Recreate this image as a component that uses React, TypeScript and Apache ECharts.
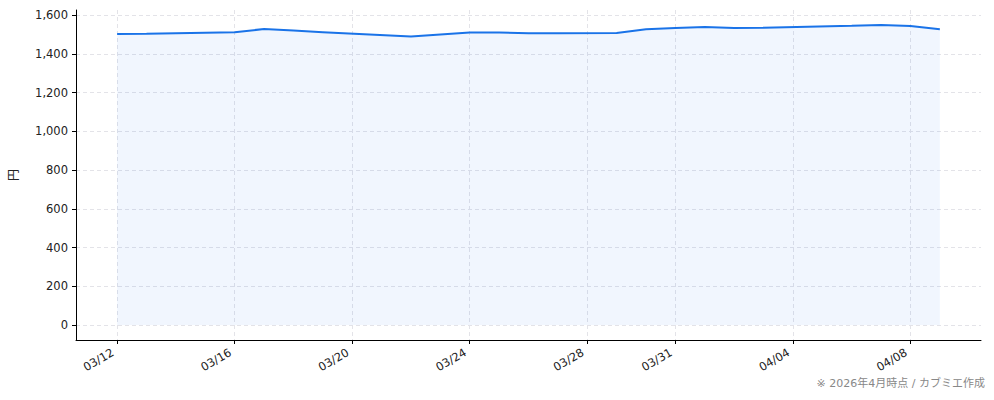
import { useEffect, useRef } from "react";
import * as echarts from "echarts";

// daily close (円)
const dates = [
  "2026-03-12", "2026-03-13", "2026-03-16", "2026-03-17", "2026-03-18",
  "2026-03-19", "2026-03-22", "2026-03-23", "2026-03-24", "2026-03-25",
  "2026-03-26", "2026-03-27", "2026-03-29", "2026-03-30", "2026-03-31",
  "2026-04-01", "2026-04-02", "2026-04-03", "2026-04-06", "2026-04-07",
  "2026-04-08", "2026-04-09",
];
const prices = [
  1503, 1505, 1513, 1529, 1521,
  1513, 1490, 1501, 1511, 1511,
  1508, 1508, 1509, 1528, 1535,
  1540, 1534, 1536, 1546, 1550,
  1545, 1528,
];
const xTicks = [
  "2026-03-12", "2026-03-16", "2026-03-20", "2026-03-24",
  "2026-03-28", "2026-03-31", "2026-04-04", "2026-04-08",
];
const yTicks = [0, 200, 400, 600, 800, 1000, 1200, 1400, 1600];

const FONT = "'DejaVu Sans', 'Noto Sans CJK JP', sans-serif";
const LINE = "#1a73e8";

const toTime = (s: string) => {
  const [y, m, d] = s.split("-").map(Number);
  return new Date(y, m - 1, d).getTime();
};

export default function App() {
  const ref = useRef<HTMLDivElement>(null);

  useEffect(() => {
    if (!ref.current) return;
    const chart = echarts.init(ref.current, undefined, { renderer: "svg" });

    const times = dates.map(toTime);
    const span = times[times.length - 1] - times[0];
    const xMin = times[0] - span * 0.05;
    const xMax = times[times.length - 1] + span * 0.05;
    const yMax = Math.max(...prices);
    const yPad = yMax * 0.05;
    const grid = { color: "#e3e3e8", type: [4, 3], width: 1 };

    chart.setOption({
      animation: false,
      textStyle: { fontFamily: FONT },
      grid: { left: 75, right: 13, top: 10, bottom: 60 },
      xAxis: {
        type: "value",
        min: xMin,
        max: xMax,
        axisLine: { onZero: false, lineStyle: { color: "#000", width: 1 } },
        axisTick: {
          show: true,
          length: 4,
          lineStyle: { color: "#000" },
          customValues: xTicks.map(toTime),
        },
        axisLabel: {
          customValues: xTicks.map(toTime),
          rotate: 30,
          margin: 9,
          padding: [0, 5, 0, 0],
          color: "#222",
          fontSize: 11.5,
          fontFamily: FONT,
          formatter: (v: number) => {
            const d = new Date(v);
            const mm = String(d.getMonth() + 1).padStart(2, "0");
            const dd = String(d.getDate()).padStart(2, "0");
            return `${mm}/${dd}`;
          },
        },
        splitLine: { show: true, lineStyle: grid },
      },
      yAxis: {
        type: "value",
        min: -yPad,
        max: yMax + yPad,
        name: "円",
        nameLocation: "middle",
        nameGap: 56,
        nameRotate: 90,
        nameTextStyle: { color: "#222", fontSize: 12, fontFamily: FONT },
        axisLine: { show: true, onZero: false, lineStyle: { color: "#000", width: 1 } },
        axisTick: {
          show: true,
          length: 4,
          lineStyle: { color: "#000" },
          customValues: yTicks,
        },
        axisLabel: {
          customValues: yTicks,
          color: "#222",
          fontSize: 11.5,
          fontFamily: FONT,
          margin: 8,
          formatter: (v: number) => v.toLocaleString("en-US"),
        },
        splitLine: { show: true, lineStyle: grid },
      },
      series: [
        {
          type: "line",
          showSymbol: false,
          data: times.map((t, i) => [t, prices[i]]),
          lineStyle: { color: LINE, width: 2 },
          itemStyle: { color: LINE },
          areaStyle: { color: "rgba(26,115,232,0.09)", origin: 0 },
        },
      ],
      graphic: [
        {
          type: "text",
          right: 9,
          bottom: 11,
          style: {
            text: "※ 2026年4月時点 / カブミエ作成",
            fill: "#888",
            fontSize: 11,
            fontFamily: FONT,
          },
        },
      ],
    });

    return () => chart.dispose();
  }, []);

  return (
    <div
      ref={ref}
      style={{ position: "fixed", left: 0, top: 0, width: 994, height: 400, background: "#fff" }}
    />
  );
}
